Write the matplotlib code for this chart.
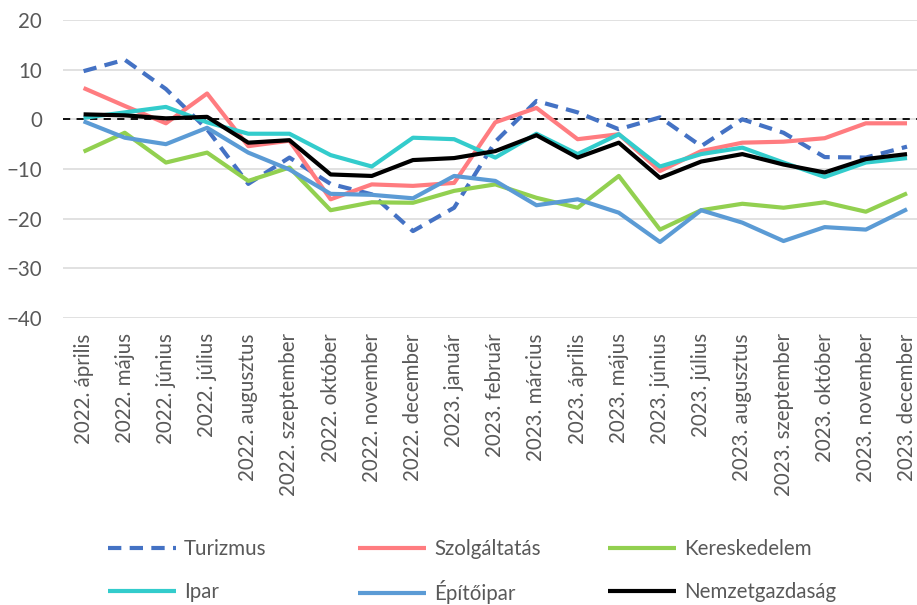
import numpy as np
import matplotlib.pyplot as plt

months = ["2022. április", "2022. május", "2022. június", "2022. július",
          "2022. augusztus", "2022. szeptember", "2022. október", "2022. november",
          "2022. december", "2023. január", "2023. február", "2023. március",
          "2023. április", "2023. május", "2023. június", "2023. július",
          "2023. augusztus", "2023. szeptember", "2023. október", "2023. november",
          "2023. december"]

turizmus = [9.7, 12.0, 6.1, -2.0, -13.0, -7.7, -13.0, -15.1, -22.5, -17.8, -4.5,
            3.7, 1.4, -2.0, 0.4, -5.4, 0.0, -2.7, -7.6, -7.7, -5.5]
szolgaltatas = [6.3, 2.7, -0.8, 5.2, -5.4, -4.3, -16.1, -13.1, -13.4, -12.8, -0.6,
                2.3, -4.0, -3.0, -10.4, -6.4, -4.7, -4.5, -3.8, -0.8, -0.8]
kereskedelem = [-6.5, -2.7, -8.7, -6.7, -12.4, -9.7, -18.3, -16.7, -16.8, -14.4, -13.1,
                -15.8, -17.8, -11.4, -22.2, -18.3, -17.0, -17.8, -16.7, -18.6, -14.9]
ipar = [0.3, 1.4, 2.5, -0.6, -2.9, -2.9, -7.2, -9.5, -3.7, -4.0, -7.7,
        -2.9, -7.0, -3.0, -9.5, -7.0, -5.7, -8.7, -11.6, -8.7, -7.8]
epitoipar = [-0.4, -3.7, -5.0, -1.7, -6.7, -10.1, -15.0, -15.2, -15.9, -11.4, -12.4,
             -17.3, -16.1, -18.8, -24.7, -18.3, -20.8, -24.5, -21.7, -22.2, -18.1]
nemzetgazdasag = [1.0, 0.8, 0.2, 0.5, -4.7, -4.2, -11.1, -11.4, -8.2, -7.8, -6.4,
                  -3.2, -7.7, -4.7, -11.8, -8.5, -7.0, -9.1, -10.7, -8.0, -7.0]

series = [
    ("Turizmus", turizmus, "#4472C4", (0, (3.2, 2.0))),
    ("Szolgáltatás", szolgaltatas, "#FF7C80", "-"),
    ("Kereskedelem", kereskedelem, "#92D050", "-"),
    ("Ipar", ipar, "#33CCCC", "-"),
    ("Építőipar", epitoipar, "#5B9BD5", "-"),
    ("Nemzetgazdaság", nemzetgazdasag, "#000000", "-"),
]

plt.rcParams['font.family'] = ['Lato', 'DejaVu Sans']

W, H = 917, 605
fig = plt.figure(figsize=(W / 100, H / 100), dpi=100)
ax = fig.add_axes([63 / W, 1 - 318 / H, (927.6 - 63) / W, (318 - 20) / H])

x = np.arange(len(months))
ax.axhline(0, color="black", lw=1.3, ls=(0, (4, 3.5)), zorder=1.5)
lines = []
for name, vals, col, ls in series:
    ln, = ax.plot(x, vals, color=col, lw=3.0, ls=ls, label=name,
                  solid_capstyle="butt", dash_capstyle="butt", zorder=3)
    lines.append(ln)

ax.set_xlim(-0.5, len(months) - 0.5)
ax.set_ylim(-40, 20)
ax.set_yticks(range(-40, 21, 10))
ax.grid(axis="y", color="#d9d9d9", lw=1.1)
ax.set_axisbelow(True)
for s in ax.spines.values():
    s.set_visible(False)
ax.set_xticks(x)
ax.set_xticklabels(months, rotation=90, ha="center", va="top")
ax.tick_params(axis="both", length=0, colors="#595959", labelsize=14.8)
ax.tick_params(axis="y", pad=15)
ax.tick_params(axis="x", pad=11)

# legend: 3 columns x 2 rows, one entry each so rows line up
col_x = [108, 358, 608]
row_y = [549, 592]
for i, ln in enumerate(lines):
    cx = col_x[i % 3]
    cy = row_y[i // 3]
    leg = fig.legend([ln], [series[i][0]], loc="center left",
                     bbox_to_anchor=(cx / W, 1 - cy / H),
                     frameon=False, fontsize=14.8, handlelength=3.3,
                     handletextpad=0.4, borderpad=0, borderaxespad=0)
    for t in leg.get_texts():
        t.set_color("#595959")

fig.savefig("out.png", dpi=100)
